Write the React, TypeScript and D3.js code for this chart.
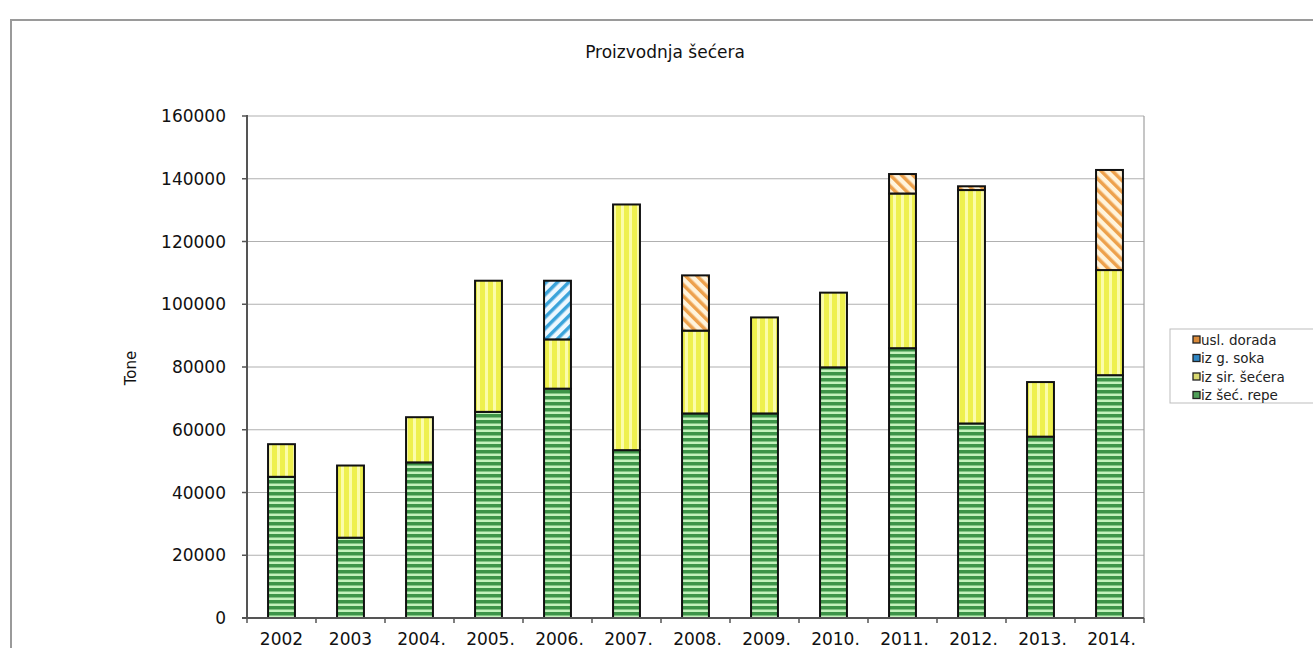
import React from "react";
import * as d3 from "d3";

const years = ["2002", "2003", "2004.", "2005.", "2006.", "2007.", "2008.", "2009.", "2010.", "2011.", "2012.", "2013.", "2014."];
const izSecRepe = [45000, 25600, 49600, 65700, 73100, 53500, 65200, 65200, 79900, 86000, 62000, 57800, 77400];
const izSirSecera = [10400, 23000, 14400, 41800, 15700, 78300, 26400, 30600, 23800, 49300, 74400, 17400, 33500];
const izGSoka = [0, 0, 0, 0, 18700, 0, 0, 0, 0, 0, 0, 0, 0];
const uslDorada = [0, 0, 0, 0, 0, 0, 17600, 0, 0, 6200, 1200, 0, 31900];
const yTicks = [0, 20000, 40000, 60000, 80000, 100000, 120000, 140000, 160000];

const seriesKeys = ["repe", "sir", "soka", "dorada"];
const seriesNames: Record<string, string> = {
  dorada: "usl. dorada",
  soka: "iz g. soka",
  sir: "iz sir. šećera",
  repe: "iz šeć. repe",
};
const legendOrder = ["dorada", "soka", "sir", "repe"];
const legendColors: Record<string, string> = {
  dorada: "#d98a3a",
  soka: "#2f86c4",
  sir: "#d8d870",
  repe: "#4f9e58",
};

const W = 1313;
const H = 648;
const plotL = 247;
const plotR = 1144;
const plotT = 116;
const plotB = 618;
const FONT = "'DejaVu Sans', 'Liberation Sans', Arial, sans-serif";

export default function App() {
  const rows = years.map((y, i) => ({
    year: y,
    repe: izSecRepe[i],
    sir: izSirSecera[i],
    soka: izGSoka[i],
    dorada: uslDorada[i],
  }));
  const x = d3.scaleBand<string>().domain(years).range([plotL, plotR]).paddingInner(0.61).paddingOuter(0.305);
  const y = d3.scaleLinear().domain([0, 160000]).range([plotB, plotT]);
  const stacked = d3.stack<any>().keys(seriesKeys)(rows);
  const fills: Record<string, string> = {
    repe: "url(#pRepe)",
    sir: "url(#pSir)",
    soka: "url(#pSoka)",
    dorada: "url(#pDorada)",
  };
  const step = x.step();
  const tickXs = d3.range(years.length + 1).map((i) => plotL + i * step);

  return (
    <svg width={W} height={H} style={{ position: "absolute", left: 0, top: 0, background: "#fff" }}>
      <defs>
        <pattern id="pRepe" patternUnits="userSpaceOnUse" width={6} height={6}>
          <rect width={6} height={6} fill="#c4f2bc" />
          <rect width={6} height={3.5} fill="#3d9448" />
        </pattern>
        <pattern id="pSir" patternUnits="userSpaceOnUse" width={8} height={8}>
          <rect width={8} height={8} fill="#eef04e" />
          <rect x={5} width={3} height={8} fill="#fbfcaa" />
        </pattern>
        <pattern id="pDorada" patternUnits="userSpaceOnUse" width={8} height={8} patternTransform="rotate(-45)">
          <rect width={8} height={8} fill="#fff4dc" />
          <rect width={3.5} height={8} fill="#eda14c" />
        </pattern>
        <pattern id="pSoka" patternUnits="userSpaceOnUse" width={8} height={8} patternTransform="rotate(45)">
          <rect width={8} height={8} fill="#eef8ff" />
          <rect width={3.5} height={8} fill="#3aa3da" />
        </pattern>
      </defs>

      {/* outer frame */}
      <rect x={11} y={20} width={W + 20} height={H + 20} fill="none" stroke="#9a9a9a" strokeWidth={2} />

      {/* title */}
      <text x={665} y={58} textAnchor="middle" fontFamily={FONT} fontSize={17} fill="#111">
        Proizvodnja šećera
      </text>

      {/* gridlines */}
      {yTicks.filter((t) => t > 0).map((t) => (
        <line key={t} x1={plotL} x2={plotR} y1={y(t)} y2={y(t)} stroke="#b0b0b0" strokeWidth={1.2} />
      ))}
      {/* right border */}
      <line x1={plotR} x2={plotR} y1={plotT} y2={plotB} stroke="#a0a0a0" strokeWidth={1.2} />

      {/* bars */}
      {stacked.map((s) => (
        <g key={s.key}>
          {s.map((d, i) => {
            const h = y(d[0]) - y(d[1]);
            if (h <= 0) return null;
            return (
              <rect
                key={i}
                x={x(years[i])}
                y={y(d[1])}
                width={x.bandwidth()}
                height={h}
                fill={fills[s.key]}
                stroke="#111"
                strokeWidth={2}
              />
            );
          })}
        </g>
      ))}

      {/* axes */}
      <line x1={plotL} x2={plotL} y1={plotT - 1} y2={plotB} stroke="#555" strokeWidth={2} />
      <line x1={plotL - 5} x2={plotR} y1={plotB} y2={plotB} stroke="#555" strokeWidth={2} />
      {yTicks.map((t) => (
        <g key={t}>
          <line x1={plotL - 5} x2={plotL} y1={y(t)} y2={y(t)} stroke="#555" strokeWidth={1.5} />
          <text x={226} y={y(t)} dy="0.36em" textAnchor="end" fontFamily={FONT} fontSize={17} fill="#111">
            {t}
          </text>
        </g>
      ))}
      {tickXs.map((tx, i) => (
        <line key={i} x1={tx} x2={tx} y1={plotB} y2={plotB + 5} stroke="#555" strokeWidth={1.5} />
      ))}
      {years.map((yr) => (
        <text
          key={yr}
          x={(x(yr) as number) + x.bandwidth() / 2 + (yr.endsWith(".") ? 2 : 0)}
          y={645}
          textAnchor="middle"
          fontFamily={FONT}
          fontSize={17}
          fill="#111"
        >
          {yr}
        </text>
      ))}

      {/* y label */}
      <text
        transform={`translate(136, 368) rotate(-90)`}
        textAnchor="middle"
        fontFamily={FONT}
        fontSize={15}
        fill="#111"
      >
        Tone
      </text>

      {/* legend */}
      <rect x={1170} y={329} width={170} height={74} fill="#fff" stroke="#bdbdbd" strokeWidth={1} />
      {legendOrder.map((k, i) => (
        <g key={k}>
          <rect x={1193} y={336 + i * 18.5} width={7} height={7} fill={legendColors[k]} stroke="#222" strokeWidth={1.3} />
          <text x={1201} y={340 + i * 18.5} dy="0.36em" fontFamily={FONT} fontSize={13.5} fill="#222">
            {seriesNames[k]}
          </text>
        </g>
      ))}
    </svg>
  );
}
